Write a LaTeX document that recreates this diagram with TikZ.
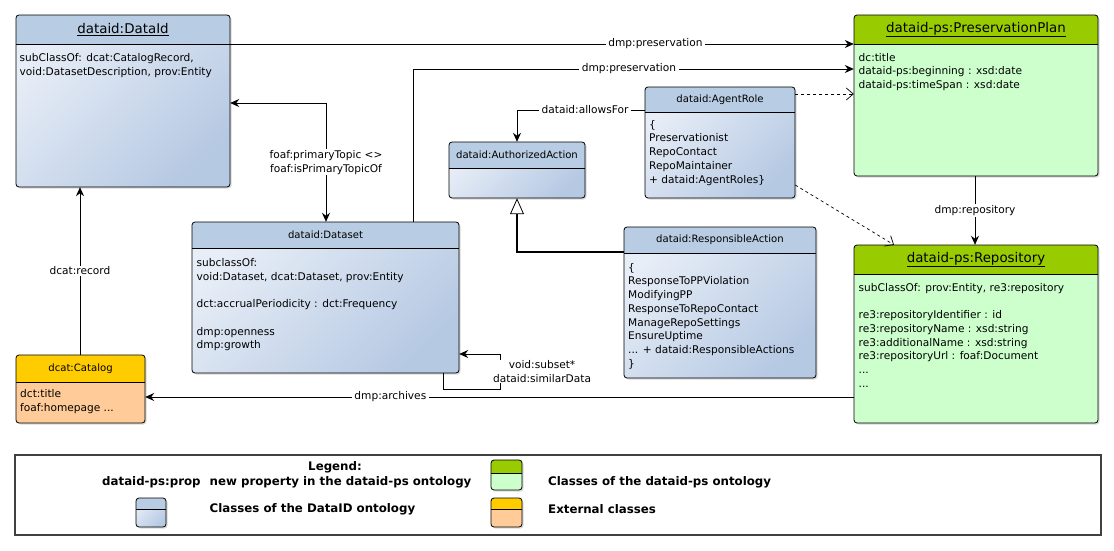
\documentclass[tikz,border=0pt]{standalone}
\usepackage{fontspec}
\setmainfont{DejaVu Sans}
\usetikzlibrary{arrows.meta,shadows,fit,calc}
\definecolor{bhead}{HTML}{B8CCE4}
\definecolor{blight}{HTML}{E8EEF7}
\definecolor{bdark}{HTML}{B6C9E3}
\definecolor{ghead}{HTML}{99CC00}
\definecolor{gbody}{HTML}{CCFFCC}
\definecolor{ohead}{HTML}{FFCC00}
\definecolor{obody}{HTML}{FFCC99}
\newcommand\bigtitlef{\fontsize{13.4}{15}\selectfont}
\newcommand\smalltitlef{\fontsize{10.1}{12}\selectfont}
\tikzset{
  bfill/.style={left color=blight, right color=bdark, shading angle=45},
  gfill/.style={fill=gbody},
  ofill/.style={fill=obody},
  bodyfont/.style={font=\fontsize{10.6}{13.7}\selectfont},
  bodytxt/.style={bodyfont, anchor=north west, align=left, inner sep=0pt},
  lbl/.style={bodyfont, fill=white, inner xsep=2.5pt, inner ysep=1pt, align=center},
  legtxt/.style={font=\fontsize{11.8}{13}\selectfont\bfseries, inner sep=0pt},
  arr/.style={line width=0.8pt, -{Stealth[length=9pt,width=8pt,inset=3pt]}},
  biarr/.style={line width=0.8pt, {Stealth[length=9pt,width=8pt,inset=3pt]}-{Stealth[length=9pt,width=8pt,inset=3pt]}},
  dasharr/.style={line width=0.7pt, dashed, -{Straight Barb[length=7pt,width=12pt]}},
  genarr/.style={line width=1.6pt, -{Triangle[open, length=16pt, width=14pt, fill=white, line width=0.8pt]}},
}
% name, x1, y1, x2, y2, header bottom, kind, title
\newcommand\umlcls[8]{%
  \path[rounded corners=3pt, #7fill, drop shadow={opacity=0.3, shadow xshift=1.5pt, shadow yshift=-1.5pt}] (#2,#3) rectangle (#4,#5);
  \begin{scope}
    \clip[rounded corners=3pt] (#2,#3) rectangle (#4,#5);
    \fill[#7head] (#2,#3) rectangle (#4,#6);
  \end{scope}
  \draw[line width=0.8pt, rounded corners=3pt] (#2,#3) rectangle (#4,#5);
  \draw[line width=0.8pt] (#2,#6) -- (#4,#6);
  \node[inner sep=0pt, fit={(#2,#3) (#4,#5)}] (#1) {};
  \node (#1-title) at ({(#2+#4)/2},{(#3+#6)/2}) {#8};
}
\begin{document}
\begin{tikzpicture}[x=1pt, y=-1pt]
\useasboundingbox (0,0) rectangle (1114,551);

% classes
\umlcls{dataid}{16}{15}{230}{187}{44}{b}{\bigtitlef\underline{dataid:DataId}}
\node[bodytxt] (dataid-body) at (19.5,52.5) {\rule{0pt}{9pt}subClassOf: dcat:CatalogRecord,\\void:DatasetDescription, prov:Entity};

\umlcls{pp}{854}{15}{1098}{176}{44}{g}{\bigtitlef\underline{dataid-ps:PreservationPlan}}
\node[bodytxt] (pp-body) at (858.5,52) {\rule{0pt}{9pt}dc:title\\dataid-ps:beginning : xsd:date\\dataid-ps:timeSpan : xsd:date};

\umlcls{repo}{854}{245}{1098}{423}{274}{g}{\bigtitlef\underline{dataid-ps:Repository}}
\node[bodytxt] (repo-body) at (858.5,282) {\rule{0pt}{9pt}subClassOf: prov:Entity, re3:repository\\\mbox{}\\re3:repositoryIdentifier : id\\re3:repositoryName : xsd:string\\re3:additionalName : xsd:string\\re3:repositoryUrl : foaf:Document\\...\\...};

\umlcls{agent}{645}{87}{795}{198}{112}{b}{\smalltitlef dataid:AgentRole}
\node[bodytxt] (agent-body) at (649,119) {\rule{0pt}{9pt}\{\\Preservationist\\RepoContact\\RepoMaintainer\\+ dataid:AgentRoles\}};

\umlcls{auth}{449}{142}{585}{198}{168}{b}{\smalltitlef dataid:AuthorizedAction}

\umlcls{resp}{624}{227}{816}{378}{253}{b}{\smalltitlef dataid:ResponsibleAction}
\node[bodytxt] (resp-body) at (628,262) {\rule{0pt}{9pt}\{\\ResponseToPPViolation\\ModifyingPP\\ResponseToRepoContact\\ManageRepoSettings\\EnsureUptime\\... + dataid:ResponsibleActions\\\}};

\umlcls{dataset}{192}{222}{459}{373}{248}{b}{\smalltitlef dataid:Dataset}
\node[bodytxt] (dataset-body) at (196.5,257.5) {\rule{0pt}{9pt}subclassOf:\\void:Dataset, dcat:Dataset, prov:Entity\\\mbox{}\\dct:accrualPeriodicity : dct:Frequency\\\mbox{}\\dmp:openness\\dmp:growth};

\umlcls{catalog}{16}{355}{145}{423}{382}{o}{\smalltitlef dcat:Catalog}
\node[bodytxt] (catalog-body) at (20,388.5) {\rule{0pt}{9pt}dct:title\\foaf:homepage ...};

% connectors
\draw[arr] (dataid.east |- 0,44) -- node[lbl, pos=0.682] {dmp:preservation} (pp.west |- 0,44);
\draw[arr] (dataset.north -| 413,0) |- node[lbl, pos=0.745] {dmp:preservation} (pp.west |- 0,69);
\draw[dasharr] (agent.east |- 0,94) -- (pp.west |- 0,94);
\draw[arr] (agent.west |- 0,110) -| node[lbl, pos=0.234] {dataid:allowsFor} (auth.north -| 517,0);
\draw[biarr] (dataset.north -| 326,0) |- node[lbl, pos=0.25] {foaf:primaryTopic <>\\foaf:isPrimaryTopicOf} (dataid.east |- 0,103);
\draw[arr] (catalog.north -| 80,0) -- node[lbl] {dcat:record} (dataid.south -| 80,0);
\draw[genarr] (resp.west |- 0,252) -| (auth.south -| 517,0);
\draw[arr] (pp.south -| 975,0) -- node[lbl] {dmp:repository} (repo.north -| 975,0);
\draw[dasharr] (agent.east |- 0,185) -- (repo.north -| 894,0);
\draw[arr] (repo.west |- 0,397) -- node[lbl, pos=0.654] {dmp:archives} (catalog.east |- 0,397);
\draw[arr] (dataset.south -| 443,0) |- (500,389) |- (dataset.east |- 0,354);
\node[lbl, inner xsep=1pt] (selflbl) at (542,371.5) {void:subset*\\dataid:similarData};

% legend
\node[draw=black!75, line width=1.8pt, inner sep=0pt, fit={(15,455) (1101,535)}] (legend) {};
\node[legtxt] (legtitle) at (335,467) {Legend:};
\node[legtxt, anchor=west] (legprop) at (102,482) {dataid-ps:prop};
\node[legtxt, anchor=west] (legnew) at (209.5,482) {new property in the dataid-ps ontology};
\node[legtxt, anchor=west] (legdataid) at (209.5,509) {Classes of the DataID ontology};
\node[legtxt, anchor=west] (legps) at (548,482) {Classes of the dataid-ps ontology};
\node[legtxt, anchor=west] (legext) at (548,509) {External classes};
\umlcls{iconps}{491}{460}{522}{490}{473}{g}{}
\umlcls{iconb}{136}{498}{166}{527}{509}{b}{}
\umlcls{iconext}{491}{498}{522}{527}{509}{o}{}
\end{tikzpicture}
\end{document}
